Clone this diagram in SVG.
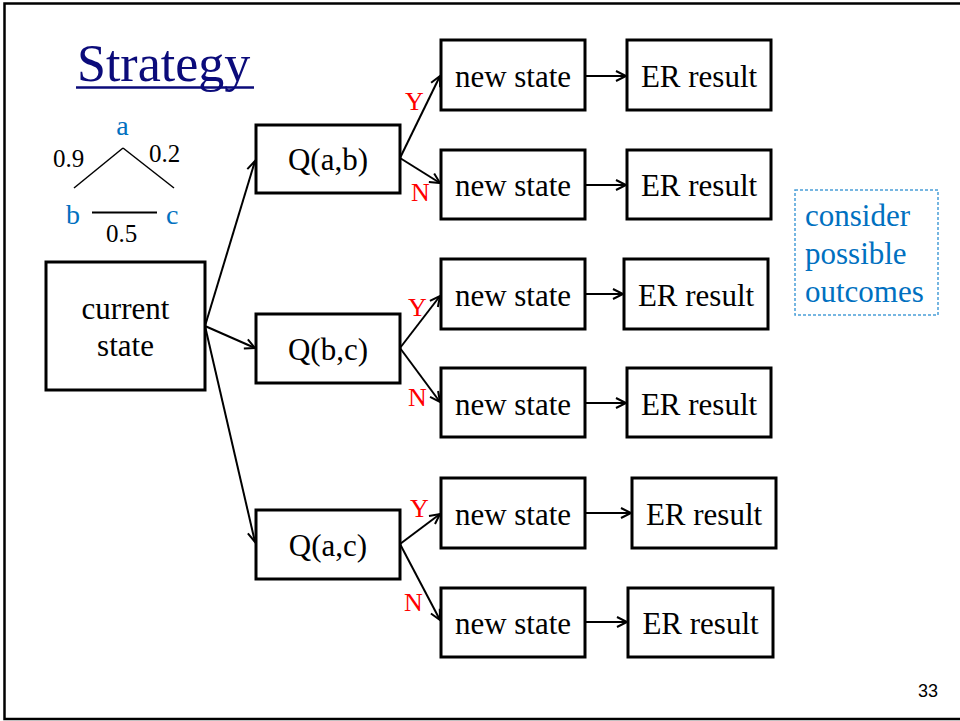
<svg xmlns="http://www.w3.org/2000/svg" width="960" height="721" viewBox="0 0 960 721">
<defs>
<style>
.box{fill:#fff;stroke:#000;stroke-width:3}
.t{font-family:'Liberation Serif','Times New Roman',serif;font-size:31px;fill:#000}
.c{text-anchor:middle}
.yn{font-family:'Liberation Serif','Times New Roman',serif;font-size:26px;fill:#ff0000}
.blue{font-family:'Liberation Serif','Times New Roman',serif;fill:#0070c0}
.num{font-family:'Liberation Serif','Times New Roman',serif;font-size:25px;fill:#000}
.conn{stroke:#000;stroke-width:2;fill:none}
</style>
<marker id="arr" markerUnits="userSpaceOnUse" markerWidth="14" markerHeight="14" refX="11" refY="6" orient="auto" viewBox="0 0 14 12">
<path d="M1,1 L11,6 L1,11" fill="none" stroke="#000" stroke-width="2"/>
</marker>
</defs>
<rect width="960" height="721" fill="#fff"/>
<rect x="4.5" y="3.5" width="970" height="715.5" fill="none" stroke="#000" stroke-width="2.5"/>

<g id="title">
<text x="77" y="81" font-family="Liberation Serif, Times New Roman, serif" font-size="52" fill="#0b0b7a">Strategy</text>
<line x1="76" y1="87.5" x2="254" y2="87.5" stroke="#0b0b7a" stroke-width="2.5"/>
</g>

<g id="triangle">
<line x1="74" y1="188" x2="123" y2="148" stroke="#000" stroke-width="1.5"/>
<line x1="123" y1="148" x2="174" y2="188" stroke="#000" stroke-width="1.5"/>
<line x1="92" y1="212.5" x2="157" y2="212.5" stroke="#000" stroke-width="2"/>
<text class="blue" x="122.5" y="135" font-size="28" text-anchor="middle">a</text>
<text class="blue" x="66" y="224" font-size="28">b</text>
<text class="blue" x="166" y="224" font-size="28">c</text>
<text class="num" x="53" y="167">0.9</text>
<text class="num" x="149" y="162">0.2</text>
<text class="num" x="106" y="242">0.5</text>
</g>

<g id="connectors">
<line class="conn" x1="205" y1="326" x2="255" y2="161" marker-end="url(#arr)"/>
<line class="conn" x1="205" y1="326" x2="255" y2="348" marker-end="url(#arr)"/>
<line class="conn" x1="205" y1="326" x2="255" y2="542" marker-end="url(#arr)"/>
<line class="conn" x1="400" y1="158" x2="440" y2="76" marker-end="url(#arr)"/>
<line class="conn" x1="400" y1="158" x2="440" y2="183" marker-end="url(#arr)"/>
<line class="conn" x1="400" y1="348" x2="440" y2="296" marker-end="url(#arr)"/>
<line class="conn" x1="400" y1="348" x2="440" y2="402" marker-end="url(#arr)"/>
<line class="conn" x1="400" y1="544" x2="440" y2="514" marker-end="url(#arr)"/>
<line class="conn" x1="400" y1="544" x2="440" y2="620" marker-end="url(#arr)"/>
<line class="conn" x1="586" y1="76" x2="626" y2="76" marker-end="url(#arr)"/>
<line class="conn" x1="586" y1="185" x2="626" y2="185" marker-end="url(#arr)"/>
<line class="conn" x1="586" y1="294" x2="623" y2="294" marker-end="url(#arr)"/>
<line class="conn" x1="586" y1="403" x2="626" y2="403" marker-end="url(#arr)"/>
<line class="conn" x1="586" y1="513" x2="631" y2="513" marker-end="url(#arr)"/>
<line class="conn" x1="586" y1="622" x2="627" y2="622" marker-end="url(#arr)"/>
<text class="yn" x="405" y="110">Y</text>
<text class="yn" x="411" y="201">N</text>
<text class="yn" x="408" y="316">Y</text>
<text class="yn" x="408" y="406">N</text>
<text class="yn" x="410" y="517">Y</text>
<text class="yn" x="404" y="611">N</text>
</g>

<g id="current-state">
<rect class="box" x="46" y="262" width="159" height="128"/>
<text class="t c" x="125.5" y="319">current</text>
<text class="t c" x="125.5" y="356">state</text>
</g>

<g id="q-ab"><rect class="box" x="256" y="125" width="144" height="68"/><text class="t c" x="328" y="170">Q(a,b)</text></g>
<g id="q-bc"><rect class="box" x="256" y="314" width="144" height="69"/><text class="t c" x="328" y="360">Q(b,c)</text></g>
<g id="q-ac"><rect class="box" x="256" y="510" width="144" height="69"/><text class="t c" x="328" y="556">Q(a,c)</text></g>

<g id="new-state-1"><rect class="box" x="441" y="40" width="144" height="70"/><text class="t c" x="513" y="87">new state</text></g>
<g id="new-state-2"><rect class="box" x="441" y="150" width="144" height="69"/><text class="t c" x="513" y="196">new state</text></g>
<g id="new-state-3"><rect class="box" x="441" y="259" width="144" height="70"/><text class="t c" x="513" y="306">new state</text></g>
<g id="new-state-4"><rect class="box" x="441" y="368" width="144" height="69"/><text class="t c" x="513" y="415">new state</text></g>
<g id="new-state-5"><rect class="box" x="441" y="478" width="144" height="70"/><text class="t c" x="513" y="525">new state</text></g>
<g id="new-state-6"><rect class="box" x="441" y="588" width="144" height="69"/><text class="t c" x="513" y="634">new state</text></g>

<g id="er-result-1"><rect class="box" x="627" y="40" width="144" height="70"/><text class="t c" x="699" y="87">ER result</text></g>
<g id="er-result-2"><rect class="box" x="627" y="150" width="144" height="69"/><text class="t c" x="699" y="196">ER result</text></g>
<g id="er-result-3"><rect class="box" x="624" y="259" width="144" height="70"/><text class="t c" x="696" y="306">ER result</text></g>
<g id="er-result-4"><rect class="box" x="627" y="368" width="144" height="69"/><text class="t c" x="699" y="415">ER result</text></g>
<g id="er-result-5"><rect class="box" x="632" y="478" width="144" height="70"/><text class="t c" x="704" y="525">ER result</text></g>
<g id="er-result-6"><rect class="box" x="628" y="588" width="145" height="69"/><text class="t c" x="700.5" y="634">ER result</text></g>

<g id="note">
<rect x="795" y="190" width="143" height="125" fill="none" stroke="#4a9fd8" stroke-width="1.5" stroke-dasharray="3,2"/>
<text class="blue" font-size="31" x="805" y="226">consider</text>
<text class="blue" font-size="31" x="805" y="264">possible</text>
<text class="blue" font-size="31" x="805" y="302">outcomes</text>
</g>

<text x="918" y="697" font-family="Liberation Sans, Arial, sans-serif" font-size="18" fill="#000">33</text>
</svg>
